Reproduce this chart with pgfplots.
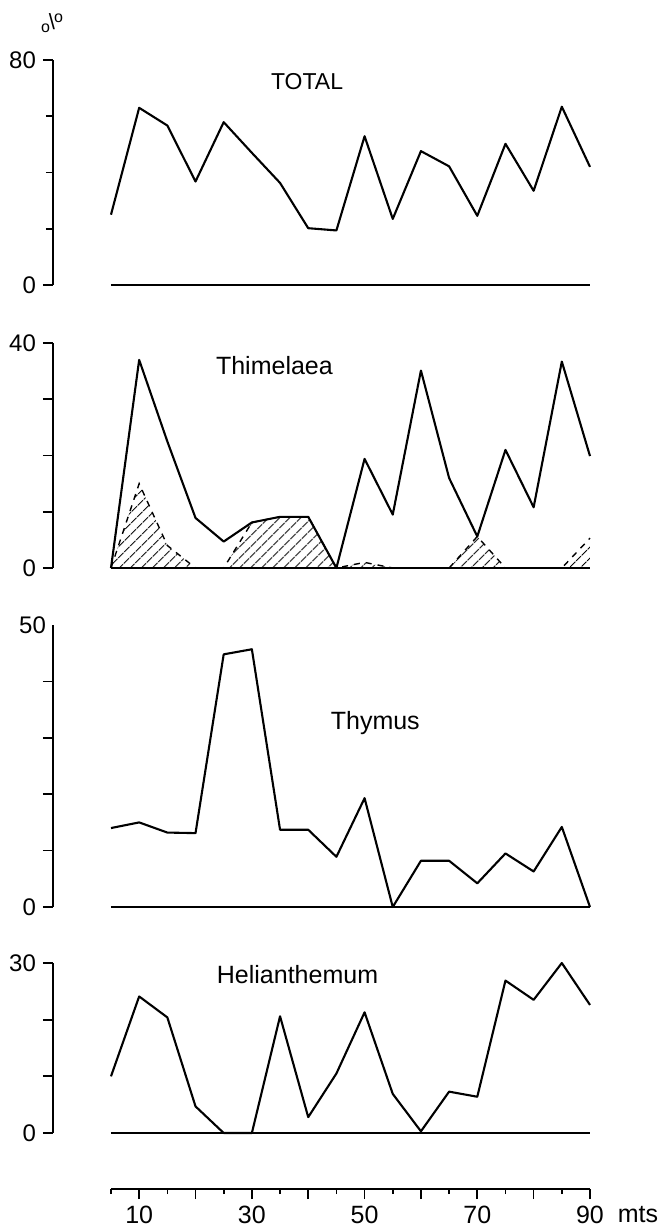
\documentclass[border=0pt]{standalone}
\usepackage{fontspec}
\setmainfont{Liberation Sans}
\usepackage{pgfplots}
\pgfplotsset{compat=1.18}
\usetikzlibrary{patterns.meta}

\pgfplotsset{
  panel/.style={
    scale only axis, width=268.5pt, xmin=-5.29, xmax=90,
    enlargelimits=false, clip=false,
    axis x line=none, axis y line=left,
    axis line style={-, line width=0.85pt},
    tick align=outside, major tick length=5pt, minor tick length=5pt,
    every tick/.style={black, line width=0.85pt},
    ymin=0, anchor=south west,
    /pgf/number format/assume math mode=true,
    yticklabel style={font=\fontsize{12}{14}\selectfont},
  },
  curve/.style={black, line width=1.05pt, mark=none, line join=round},
  base/.style={black, line width=0.55pt, mark=none},
}

\begin{document}
\begin{tikzpicture}
\useasboundingbox (0,0) rectangle (331pt,-613.5pt);

% TOTAL
\begin{axis}[panel, height=112.5pt, ymax=80, at={(26.5pt,-142.5pt)},
  ytick={0,80}, minor ytick={20,40,60}, minor tick length=3.5pt]
\addplot[base] coordinates {(5,0) (90,0)};
\addplot[curve] coordinates {(5,25) (10,63) (15,56.7) (20,36.8) (25,57.9) (30,47) (35,36.3)
  (40,20.2) (45,19.4) (50,52.9) (55,23.5) (60,47.6) (65,42.2) (70,24.6) (75,50.2)
  (80,33.5) (85,63.4) (90,42)};
\node[font=\fontsize{11.5}{13}\selectfont] at (axis cs:39.8,72.2) {TOTAL};
\end{axis}

% Thimelaea
\begin{axis}[panel, height=112.5pt, ymax=40, at={(26.5pt,-284pt)},
  ytick={0,40}, minor ytick={10,20,30}]
\addplot[draw=none,
  pattern={Lines[angle=45,distance=4pt,line width=0.6pt]}] coordinates {
  (5,0) (10,15) (15,4) (20,0) (25,0) (30,8.1) (35,9.1) (40,9.1) (45,0) (50,1)
  (55,0) (60,0) (65,0) (70,5.6) (75,0) (80,0) (85,0) (90,5.3)} \closedcycle;
\addplot[black, dashed, line width=0.7pt, mark=none] coordinates {
  (5,0) (10,15) (15,4) (20,0) (25,0) (30,8.1) (35,9.1) (40,9.1) (45,0) (50,1)
  (55,0) (60,0) (65,0) (70,5.6) (75,0) (80,0) (85,0) (90,5.3)};
\addplot[base] coordinates {(5,0) (90,0)};
\addplot[curve] coordinates {(5,0) (10,37) (15,22.5) (20,8.9) (25,4.7) (30,8.1) (35,9.1)
  (40,9.1) (45,0) (50,19.4) (55,9.5) (60,35.1) (65,16) (70,5.6) (75,21) (80,10.8)
  (85,36.7) (90,19.9)};
\node[font=\fontsize{12.5}{14}\selectfont] at (axis cs:34,36) {Thimelaea};
\end{axis}

% Thymus
\begin{axis}[panel, height=141pt, ymax=50, at={(26.5pt,-453.5pt)},
  ytick={0}, minor ytick={10,20,30,40},
  extra y ticks={50}, extra y tick style={major tick length=0pt}]
\addplot[base] coordinates {(5,0) (90,0)};
\addplot[curve] coordinates {(5,14) (10,15) (15,13.2) (20,13.1) (25,44.8) (30,45.7)
  (35,13.7) (40,13.7) (45,8.9) (50,19.3) (55,0) (60,8.2) (65,8.2) (70,4.2) (75,9.5)
  (80,6.3) (85,14.2) (90,0)};
\node[font=\fontsize{12.5}{14}\selectfont] at (axis cs:51.9,32.6) {Thymus};
\end{axis}

% Helianthemum
\begin{axis}[panel, height=85pt, ymax=30, at={(26.5pt,-566.5pt)},
  ytick={0,30}, minor ytick={10,20}]
\addplot[base] coordinates {(5,0) (90,0)};
\addplot[curve] coordinates {(5,10) (10,24.1) (15,20.4) (20,4.7) (25,0) (30,0) (35,20.6)
  (40,2.8) (45,10.5) (50,21.3) (55,6.9) (60,0.3) (65,7.3) (70,6.4) (75,26.9)
  (80,23.5) (85,30) (90,22.6)};
\node[font=\fontsize{12.5}{14}\selectfont] at (axis cs:38.1,27.9) {Helianthemum};
\end{axis}

% distance axis
\begin{axis}[scale only axis, width=239.5pt, height=20pt, xmin=5, xmax=90,
  ymin=0, ymax=1, enlargelimits=false, anchor=south west, at={(55.5pt,-594.5pt)},
  axis x line=bottom, axis y line=none, axis line style={-, line width=0.85pt},
  tick align=outside, major tick length=5pt, minor tick length=2.5pt,
  every tick/.style={black, line width=0.85pt},
  xtick={10,20,...,90}, xticklabels={10,,30,,50,,70,,90},
  minor xtick={5,15,...,85},
  /pgf/number format/assume math mode=true,
  xticklabel style={font=\fontsize{12.5}{14}\selectfont}]
\addplot[draw=none] coordinates {(5,0) (90,0)};
\end{axis}

\node[font=\fontsize{12.5}{14}\selectfont] at (319pt,-607.5pt) {mts};
\node[font=\fontsize{11}{12}\selectfont, inner sep=0pt] at (26pt,-11.5pt)
  {\raisebox{-0.3ex}{\fontsize{8}{9}\selectfont o}\kern-0.5pt\textbackslash\kern-0.5pt\raisebox{0.6ex}{\fontsize{8}{9}\selectfont o}};
\end{tikzpicture}
\end{document}
